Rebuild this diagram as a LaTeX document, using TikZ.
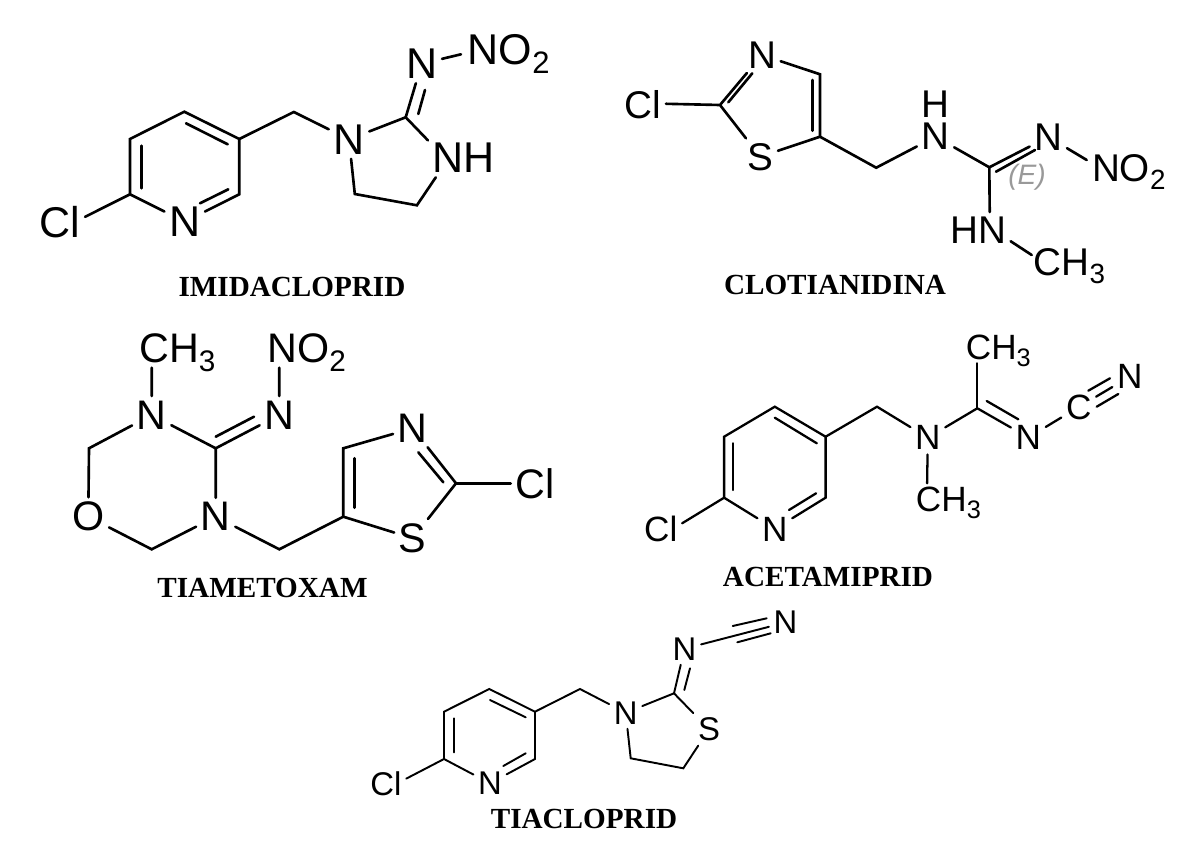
\documentclass[tikz,border=0pt]{standalone}
\usepackage{graphicx}
\usepackage{fontspec}
\setmainfont{Liberation Sans}
\newfontfamily\namefont{Liberation Serif}
\newcommand{\lowdigit}[1]{\raisebox{-.21em}{\scalebox{.72}{#1}}}
\tikzset{
  bond/.style={line width=1.5pt, line cap=round},
  midbond/.style={line width=1.3pt, line cap=round},
  thinbond/.style={line width=1.1pt, line cap=round},
  atom/.style={inner sep=2.5pt},
  atomimi/.style={atom, font=\fontsize{24.5}{26}\selectfont},
  atomclo/.style={atom, font=\fontsize{22}{24}\selectfont},
  atomtia/.style={atom, font=\fontsize{23.5}{26}\selectfont},
  atomace/.style={atom, font=\fontsize{20}{22}\selectfont},
  atomtcl/.style={atom, font=\fontsize{18.7}{20}\selectfont},
  drugname/.style={inner sep=1pt, font=\namefont\bfseries\fontsize{16.6}{18}\selectfont}
}
\begin{document}
\begin{tikzpicture}[x=0.02cm, y=-0.02cm]
  \useasboundingbox (0,0) rectangle (1200,862);

  \coordinate (ic1) at (130,194.3);
  \coordinate (ic2) at (130,139);
  \coordinate (ic3) at (184.3,111.7);
  \coordinate (ic4) at (239.3,139);
  \coordinate (ic5) at (239.3,194.3);
  \coordinate (ic6) at (293.8,112);
  \coordinate (ic7) at (405.7,117.3);
  \coordinate (ic8) at (416.9,205.3);
  \coordinate (ic9) at (354.8,194);
  \coordinate (iu1) at (141.7,145.7);
  \coordinate (iu2) at (141.7,188.3);
  \coordinate (iu3) at (186,123.3);
  \coordinate (iu4) at (227.7,144.3);
  \coordinate (iu5) at (200,203.3);
  \coordinate (iu6) at (228.3,189.3);
  \coordinate (iu7) at (418.3,114);
  \coordinate (iu8) at (425,90);
  \coordinate (iu9) at (461,54.3);
  \node[atomimi] (icl) at (60,221.7) {Cl};
  \node[atomimi] (in1) at (184.7,221.7) {N};
  \node[atomimi] (in2) at (349,139.3) {N};
  \node[atomimi] (inh) at (463.7,157.8) {NH};
  \node[atomimi] (in3) at (421.7,63.7) {N};
  \node[atomimi, anchor=base] (ino2) at (508.8,64.3) {NO\lowdigit{2}};
  \node[drugname] (imida) at (292,287) {IMIDACLOPRID};
  \draw[bond] (icl.11) -- (ic1) -- (ic2) -- (ic3) -- (ic4) -- (ic5) -- (in1) -- (ic1);
  \draw[bond] (iu1) -- (iu2);
  \draw[bond] (iu3) -- (iu4);
  \draw[bond] (iu5) -- (iu6);
  \draw[bond] (ic4) -- (ic6) -- (in2) -- (ic7) -- (inh.154);
  \draw[bond] (in2) -- (ic9) -- (ic8) -- (inh.215);
  \draw[bond] (ic7) -- (in3);
  \draw[bond] (iu7) -- (iu8);
  \draw[bond] (in3) -- (iu9);

  \coordinate (cc1) at (720,105);
  \coordinate (cc2) at (820,74.3);
  \coordinate (cc3) at (820,136.7);
  \coordinate (cc4) at (876.2,167.7);
  \coordinate (cc5) at (989.3,167.3);
  \coordinate (cu1) at (728.3,102.3);
  \coordinate (cu2) at (752.3,73.3);
  \coordinate (cu3) at (812.7,80);
  \coordinate (cu4) at (812.7,130.7);
  \coordinate (cu5) at (996,171.7);
  \coordinate (cu6) at (1035,150);
  \coordinate (cu7) at (1086.7,160);
  \coordinate (cu8) at (1031.7,255);
  \node[atomclo] (ccl) at (643,105) {Cl};
  \node[atomclo] (cn1) at (762,55) {N};
  \node[atomclo] (cs1) at (760.3,156.7) {S};
  \node[atomclo] (cn2) at (935.5,136.7) {N};
  \node[atomclo, inner sep=0pt] (ch1) at (935.5,104) {H};
  \node[atomclo] (cn3) at (1048.3,137) {N};
  \node[atomclo, anchor=base] (cno2) at (1128.8,181) {NO\lowdigit{2}};
  \node[atomclo] (chn) at (978,230) {HN};
  \node[atomclo, anchor=base] (cch3) at (1069.5,275) {CH\lowdigit{3}};
  \node[atom, text=gray!80, font=\itshape\fontsize{16}{18}\selectfont] (cez) at (1027,177.3) {(E)};
  \node[drugname] (cloti) at (835,285) {CLOTIANIDINA};
  \draw[bond] (ccl.3) -- (cc1) -- (cn1) -- (cc2) -- (cc3) -- (cs1) -- (cc1);
  \draw[bond] (cu1) -- (cu2);
  \draw[bond] (cu3) -- (cu4);
  \draw[bond] (cc3) -- (cc4) -- (cn2) -- (cc5) -- (cn3);
  \draw[bond] (cu5) -- (cu6);
  \draw[bond] (cn3) -- (cu7);
  \draw[bond] (cc5) -- (chn.57);
  \draw[bond] (chn.-19) -- (cu8);

  \coordinate (tc1) at (215.7,448.3);
  \coordinate (tc2) at (89,448.3);
  \coordinate (tc3) at (151.7,549.3);
  \coordinate (tc4) at (279.3,549.3);
  \coordinate (tc5) at (343.3,516.7);
  \coordinate (tc6) at (343.3,448.3);
  \coordinate (tc7) at (456,483.3);
  \coordinate (tu1) at (151.7,367.7);
  \coordinate (tu2) at (279.3,367.7);
  \coordinate (tu3) at (215.7,436.7);
  \coordinate (tu4) at (254,416.7);
  \coordinate (tu5) at (354.3,458.3);
  \coordinate (tu6) at (354.3,507.7);
  \coordinate (tu7) at (418.3,452.3);
  \coordinate (tu8) at (443.3,482.3);
  \node[atomtia, anchor=base] (tch3) at (177.3,362.7) {CH\lowdigit{3}};
  \node[atomtia, anchor=base] (tno2) at (306.7,362.7) {NO\lowdigit{2}};
  \node[atomtia] (tn1) at (151.7,415) {N};
  \node[atomtia] (tn2) at (279.3,415) {N};
  \node[atomtia] (to1) at (88.3,516.7) {O};
  \node[atomtia] (tn3) at (215.7,516.7) {N};
  \node[atomtia] (tn4) at (412.7,428.3) {N};
  \node[atomtia] (ts1) at (412.7,538.3) {S};
  \node[atomtia] (tcl) at (535,483.3) {Cl};
  \node[drugname] (tiame) at (262.5,588) {TIAMETOXAM};
  \draw[bond] (tu1) -- (tn1) -- (tc1) -- (tn3) -- (tc3) -- (to1) -- (tc2) -- (tn1);
  \draw[bond] (tu2) -- (tn2) -- (tc1);
  \draw[bond] (tu3) -- (tu4);
  \draw[bond] (tn3) -- (tc4) -- (tc5) -- (tc6) -- (tn4) -- (tc7) -- (ts1) -- (tc5);
  \draw[bond] (tu5) -- (tu6);
  \draw[bond] (tu7) -- (tu8);
  \draw[bond] (tc7) -- (tcl);

  \coordinate (ac1) at (724.1,497.7);
  \coordinate (ac2) at (724.1,436.7);
  \coordinate (ac3) at (774.8,406.7);
  \coordinate (ac4) at (825.6,436.7);
  \coordinate (ac5) at (825.6,497.7);
  \coordinate (ac6) at (877,406.7);
  \coordinate (ac7) at (977.3,408.3);
  \coordinate (au1) at (733.2,443.3);
  \coordinate (au2) at (733.2,490);
  \coordinate (au3) at (774.8,417.7);
  \coordinate (au4) at (816.8,443.3);
  \coordinate (au5) at (789,510);
  \coordinate (au6) at (816.1,493.3);
  \coordinate (au7) at (977.3,363.3);
  \coordinate (au8) at (927.1,483.3);
  \coordinate (au9) at (986.7,401);
  \coordinate (au10) at (1018.3,419.3);
  \coordinate (au11) at (1088.3,390.7);
  \coordinate (au12) at (1110,378.3);
  \coordinate (au13) at (1096.7,406.7);
  \coordinate (au14) at (1118.3,394);
  \node[atomace] (acl) at (660.8,529) {Cl};
  \node[atomace] (an1) at (774.8,529) {N};
  \node[atomace] (an2) at (927.8,437.7) {N};
  \node[atomace] (an3) at (1028.3,437.5) {N};
  \node[atomace] (ac8) at (1078.7,407) {C};
  \node[atomace] (an4) at (1129.7,376.7) {N};
  \node[atomace, anchor=base] (ach3) at (998.3,359.3) {CH\lowdigit{3}};
  \node[atomace, anchor=base] (ach4) at (948.4,511) {CH\lowdigit{3}};
  \node[drugname] (aceta) at (828,577) {ACETAMIPRID};
  \draw[midbond] (acl.15) -- (ac1) -- (ac2) -- (ac3) -- (ac4) -- (ac5) -- (an1) -- (ac1);
  \draw[midbond] (au1) -- (au2);
  \draw[midbond] (au3) -- (au4);
  \draw[midbond] (au5) -- (au6);
  \draw[midbond] (ac4) -- (ac6) -- (an2) -- (ac7) -- (an3);
  \draw[midbond] (an2) -- (au8);
  \draw[midbond] (ac7) -- (au7);
  \draw[midbond] (au9) -- (au10);
  \draw[midbond] (an3) -- (ac8) -- (an4);
  \draw[midbond] (au11) -- (au12);
  \draw[midbond] (au13) -- (au14);

  \coordinate (kc1) at (444,759);
  \coordinate (kc2) at (444,711.7);
  \coordinate (kc3) at (489.3,689);
  \coordinate (kc4) at (535,711.7);
  \coordinate (kc5) at (535,759);
  \coordinate (kc6) at (580,689);
  \coordinate (kc7) at (674,693.3);
  \coordinate (kc8) at (683.3,768.3);
  \coordinate (kc9) at (630.7,758.3);
  \coordinate (ku1) at (454,718.3);
  \coordinate (ku2) at (454,752.3);
  \coordinate (ku3) at (490,700);
  \coordinate (ku4) at (525.7,717.3);
  \coordinate (ku5) at (503.3,766);
  \coordinate (ku6) at (525.7,753.3);
  \coordinate (ku7) at (684.3,690);
  \coordinate (ku8) at (690,668.3);
  \coordinate (ku9) at (732.7,626);
  \coordinate (ku10) at (766.7,618.3);
  \coordinate (ku11) at (737.3,642.3);
  \coordinate (ku12) at (770.7,633.3);
  \node[atomtcl] (kcl) at (386,783.3) {Cl};
  \node[atomtcl] (kn1) at (490,783.3) {N};
  \node[atomtcl] (kn2) at (625.7,712.7) {N};
  \node[atomtcl] (ks1) at (709,729.3) {S};
  \node[atomtcl] (kn3) at (684.5,648.7) {N};
  \node[atomtcl] (kn4) at (785.5,622.5) {N};
  \node[drugname] (tiacl) at (584,818.7) {TIACLOPRID};
  \draw[thinbond] (kcl.13) -- (kc1) -- (kc2) -- (kc3) -- (kc4) -- (kc5) -- (kn1) -- (kc1);
  \draw[thinbond] (ku1) -- (ku2);
  \draw[thinbond] (ku3) -- (ku4);
  \draw[thinbond] (ku5) -- (ku6);
  \draw[thinbond] (kc4) -- (kc6) -- (kn2) -- (kc7) -- (ks1) -- (kc8) -- (kc9) -- (kn2);
  \draw[thinbond] (kc7) -- (kn3) -- (kn4);
  \draw[thinbond] (ku7) -- (ku8);
  \draw[thinbond] (ku9) -- (ku10);
  \draw[thinbond] (ku11) -- (ku12);
\end{tikzpicture}
\end{document}
